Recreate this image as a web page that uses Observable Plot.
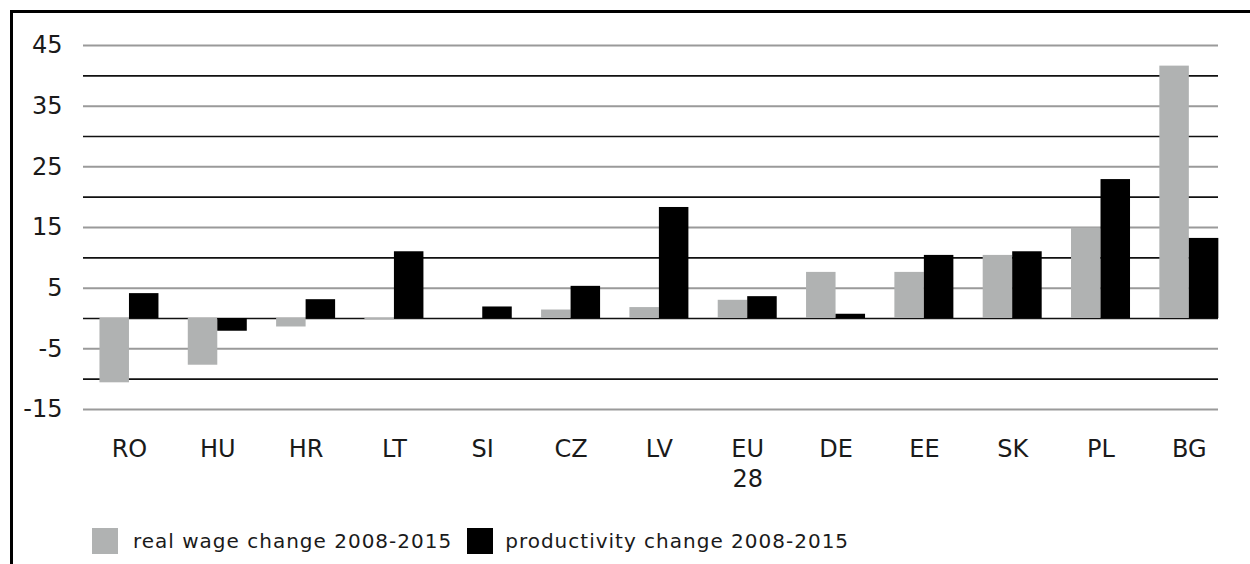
<!DOCTYPE html>
<html>
<head>
<meta charset="utf-8">
<script src="https://cdn.jsdelivr.net/npm/d3@7"></script>
<script src="https://cdn.jsdelivr.net/npm/@observablehq/plot@0.6"></script>
<style>
  html, body { margin: 0; padding: 0; background: #fff; width: 1250px; height: 564px; overflow: hidden; }
  #frame { position: absolute; left: 10px; top: 10px; width: 1400px; height: 700px; border-left: 3px solid #000; border-top: 3px solid #000; }
  #chart { position: absolute; left: 0; top: 0; }
  #legend { position: absolute; left: 92px; top: 528px; display: flex; align-items: center; font-family: "DejaVu Sans", sans-serif; font-size: 20px; color: #1a1a1a; letter-spacing: 1px; }
  .sw { width: 26px; height: 26px; display: inline-block; }
  .lab { line-height: 26px; }
</style>
</head>
<body>
<div id="frame"></div>
<div id="chart"></div>
<div id="legend"></div>
<script>
const countries = ["RO", "HU", "HR", "LT", "SI", "CZ", "LV", "EU 28", "DE", "EE", "SK", "PL", "BG"];
const wageChange = [-10.6, -7.7, -1.4, -0.2, 0, 1.4, 1.8, 3.0, 7.6, 7.6, 10.4, 14.9, 41.6];
const productivityChange = [4.1, -2.1, 3.1, 11.0, 1.9, 5.3, 18.3, 3.6, 0.7, 10.4, 11.0, 22.9, 13.2];
const seriesNames = ["real wage change 2008-2015", "productivity change 2008-2015"];
const seriesColors = ["#b0b2b2", "#000000"];
const yTickLabels = [-15, -5, 5, 15, 25, 35, 45];
const yGridMinor = [-10, 0, 10, 20, 30, 40];

const wageData = countries.map((c, i) => ({country: c, value: wageChange[i]}));
const prodData = countries.map((c, i) => ({country: c, value: productivityChange[i]}));

const band = (1233 - 84.8) / countries.length;
const barW = 29.5;
const outer = band / 2 - barW;
const inner = band / 2;

const chart = Plot.plot({
  width: 1250,
  height: 500,
  marginLeft: 83,
  marginRight: 32,
  marginTop: 45,
  marginBottom: 91,
  style: {fontFamily: "DejaVu Sans, sans-serif", fontSize: "24px", color: "#1a1a1a", background: "transparent"},
  x: {domain: countries, range: [84.8, 1233], padding: 0, round: false, label: null},
  y: {domain: [-15, 45], label: null},
  marks: [
    Plot.ruleY(yTickLabels, {stroke: "#9a9a9a", strokeWidth: 2}),
    Plot.ruleY(yGridMinor, {stroke: "#111", strokeWidth: 1.6}),
    Plot.barY(wageData, {x: "country", y: "value", fill: seriesColors[0], insetLeft: outer, insetRight: inner}),
    Plot.barY(prodData, {x: "country", y: "value", fill: seriesColors[1], insetLeft: inner, insetRight: outer}),
    Plot.axisY({ticks: yTickLabels, tickSize: 0, tickPadding: 21, fontSize: 24, label: null, tickFormat: d => String(d)}),
    Plot.axisX({tickSize: 0, tickPadding: 26, fontSize: 24, lineHeight: 1.25, label: null, tickFormat: d => d.replace(" ", "\n")})
  ]
});
document.getElementById("chart").appendChild(chart);

const legend = document.getElementById("legend");
seriesNames.forEach((name, i) => {
  const sw = document.createElement("span");
  sw.className = "sw";
  sw.style.background = seriesColors[i];
  sw.style.marginRight = i === 0 ? "15px" : "12px";
  const lab = document.createElement("span");
  lab.className = "lab";
  lab.textContent = name;
  lab.style.marginRight = i === 0 ? "15px" : "0";
  legend.appendChild(sw);
  legend.appendChild(lab);
});
</script>
</body>
</html>
